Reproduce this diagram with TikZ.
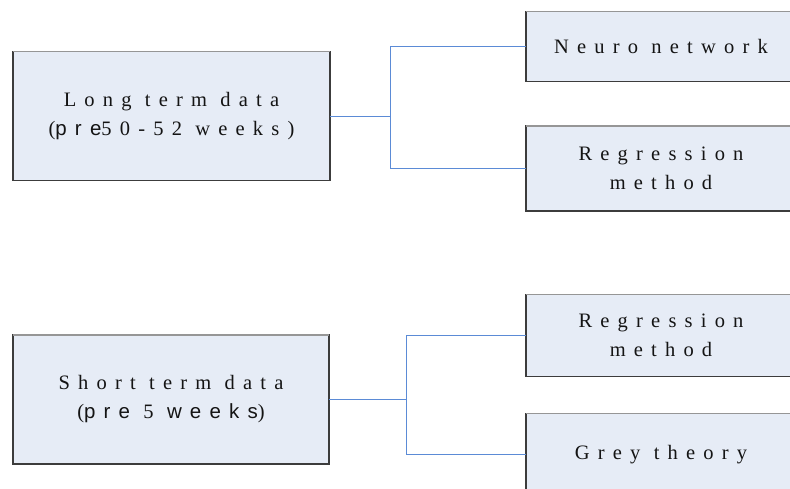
\documentclass[tikz,border=0pt]{standalone}
\usepackage{fontspec}
\setmainfont{Liberation Serif}
\newfontfamily\lsserif[LetterSpace=40]{Liberation Serif}
\newfontfamily\lssans[LetterSpace=40]{Liberation Sans}
\definecolor{boxfill}{RGB}{230,236,246}
\definecolor{boxline}{RGB}{60,60,60}
\definecolor{topline}{RGB}{150,150,150}
\definecolor{linkblue}{RGB}{91,139,214}
\definecolor{txt}{RGB}{20,20,20}
\begin{document}
\begin{tikzpicture}[x=1pt,y=-1pt,
  box/.style={draw=boxline, fill=boxfill, line width=1.3pt, inner sep=0pt, outer sep=0pt,
    align=center, text=txt, font=\lsserif\fontsize{20.5}{29}\selectfont},
  linkline/.style={draw=linkblue, line width=1.1pt},
  topedge/.style={draw=topline, line width=1.3pt}]
\useasboundingbox (0,0) rectangle (790,488);
\begin{scope}
\clip (0,0) rectangle (790,488);
\fill[white] (0,0) rectangle (790,488);
% top group
\node[box, minimum width=317pt, minimum height=129pt] (A) at (171.5,116)
  {Long term data\\({\lssans pre}50-52 weeks)};
\node[box, minimum width=270pt, minimum height=70pt] (B) at (661,46.5) {Neuro network};
\node[box, minimum width=270pt, minimum height=85pt] (C) at (661,168.5) {Regression\\method};
% bottom group
\node[box, minimum width=316pt, minimum height=129pt] (D) at (171,399.5)
  {Short term data\\({\lssans pre} 5 {\lssans weeks})};
\node[box, minimum width=270pt, minimum height=82pt] (E) at (661,335.5) {Regression\\method};
\node[box, minimum width=270pt, minimum height=82pt] (F) at (661,454.5) {Grey theory};
% lighter top edges
\foreach \n in {A,B,C,D,E,F}{\draw[topedge] (\n.north west) -- (\n.north east);}
% connectors
\coordinate (j1) at (390.5,116.5);
\draw[linkline] (A.east |- j1) -- (j1);
\draw[linkline] (j1) |- (B.west);
\draw[linkline] (j1) |- (C.west);
\coordinate (j2) at (406.5,399.5);
\draw[linkline] (D.east) -- (j2);
\draw[linkline] (j2) |- (E.west);
\draw[linkline] (j2) |- (F.west);
\end{scope}
\end{tikzpicture}
\end{document}
